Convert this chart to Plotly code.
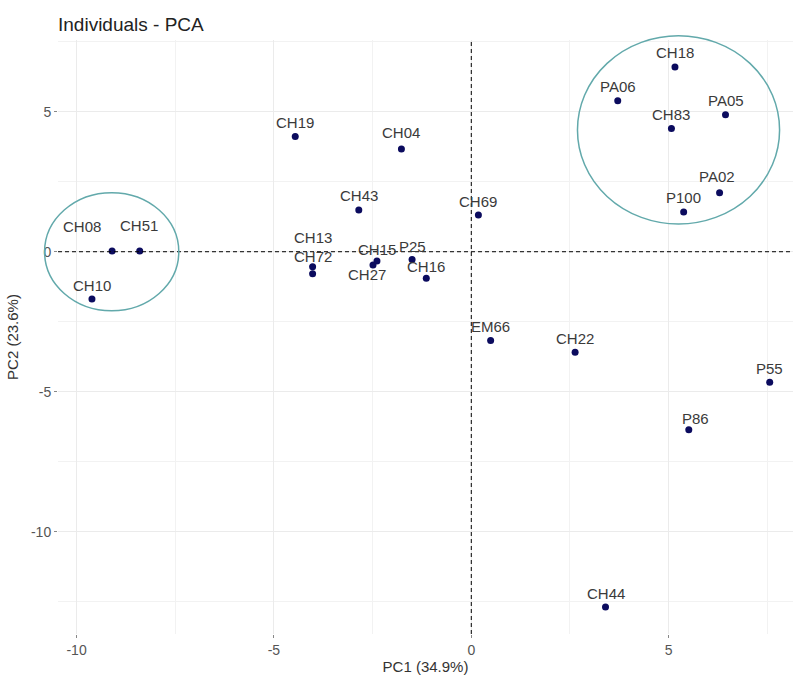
import plotly.graph_objects as go

# ---- data ----
names = ["CH18", "PA06", "PA05", "CH83", "PA02", "P100", "CH19", "CH04", "CH43", "CH69",
         "CH08", "CH51", "CH10", "CH13", "CH72", "CH15", "CH27", "P25", "CH16",
         "EM66", "CH22", "P55", "P86", "CH44"]
pc1 = [5.16, 3.71, 6.44, 5.07, 6.29, 5.38, -4.46, -1.77, -2.85, 0.18,
       -9.10, -8.40, -9.61, -4.02, -4.02, -2.39, -2.49, -1.50, -1.14,
       0.49, 2.63, 7.56, 5.51, 3.40]
pc2 = [6.60, 5.39, 4.89, 4.40, 2.11, 1.42, 4.11, 3.67, 1.49, 1.31,
       0.03, 0.03, -1.69, -0.54, -0.79, -0.33, -0.47, -0.28, -0.95,
       -3.17, -3.59, -4.66, -6.36, -12.69]

x_ticks = [-10, -5, 0, 5]
y_ticks = [-10, -5, 0, 5]
x_title = "PC1 (34.9%)"
y_title = "PC2 (23.6%)"
title = "Individuals - PCA"

# group highlight ellipses (centre x, centre y, half-width, half-height) in data units
groups = [(-9.11, 0.0, 1.70, 2.11), (5.25, 4.35, 2.56, 3.36)]

# ---- layout / style ----
W, H = 793, 676
ML, MR, MT, MB = 58, 0, 40, 42
XR = [-10.47, 8.15]
YR = [-13.65, 7.56]

# label offsets in pixels (dx, dy up), default is (0, 14)
label_shift = {"CH08": (-30, 24), "CH51": (-1, 25), "CH13": (0, 29), "CH72": (0, 17),
               "CH15": (0, 11), "CH27": (-6, -10), "CH16": (0, 12), "PA02": (-3, 16),
               "P86": (7, 11), "P25": (0, 13), "CH04": (0, 16)}

FONT = "Liberation Sans, Arial, sans-serif"
fig = go.Figure()
fig.add_trace(go.Scatter(x=pc1, y=pc2, mode="markers",
                         marker=dict(size=7, color="#0b0b5e"),
                         hoverinfo="text", text=names, showlegend=False))

for n, x, y in zip(names, pc1, pc2):
    dx, dy = label_shift.get(n, (0, 14))
    fig.add_annotation(x=x, y=y, text=n, showarrow=False, xshift=dx, yshift=dy,
                       xanchor="center", yanchor="middle",
                       font=dict(family=FONT, size=15, color="#3a3a3a"))

# reference dashed lines at 0
fig.add_shape(type="line", xref="x", yref="paper", x0=0, x1=0, y0=0, y1=1,
              line=dict(color="black", width=1, dash="4px,3px"))
fig.add_shape(type="line", xref="paper", yref="y", x0=0, x1=1, y0=0, y1=0,
              line=dict(color="black", width=1, dash="4px,3px"))

def px_(v):
    return (v - XR[0]) / (XR[1] - XR[0])

def py_(v):
    return (v - YR[0]) / (YR[1] - YR[0])

for cx, cy, rx, ry in groups:
    fig.add_shape(type="circle", xref="paper", yref="paper",
                  x0=px_(cx - rx), x1=px_(cx + rx), y0=py_(cy - ry), y1=py_(cy + ry),
                  line=dict(color="#62a9ab", width=1.5), layer="above")

axis_common = dict(showline=False, zeroline=False, showgrid=True,
                   gridcolor="#ebebeb", gridwidth=1,
                   ticks="outside", ticklen=3, tickcolor="#888", tickwidth=1,
                   tickfont=dict(family=FONT, size=14, color="#555"),
                   minor=dict(dtick=2.5, tick0=0, showgrid=True, gridcolor="#f2f2f2", gridwidth=1),
                   automargin=False)

fig.update_layout(
    width=W, height=H,
    margin=dict(l=ML, r=MR, t=MT, b=MB),
    paper_bgcolor="white", plot_bgcolor="white",
    title=dict(text=title, xref="container", yref="container",
               x=ML / W, y=1 - 24 / H, xanchor="left", yanchor="middle",
               font=dict(family=FONT, size=19, color="#222")),
    xaxis=dict(range=XR, tickvals=x_ticks, ticktext=[str(v) for v in x_ticks],
               title=dict(text=x_title, standoff=4,
                          font=dict(family=FONT, size=15, color="#333")),
               **axis_common),
    yaxis=dict(range=YR, tickvals=y_ticks, ticktext=[str(v) for v in y_ticks],
               title=dict(text=y_title, standoff=8,
                          font=dict(family=FONT, size=15, color="#333")),
               **axis_common),
)

fig.write_html("out.html", config={"displayModeBar": False},
               post_script="document.body.style.margin='0';")
